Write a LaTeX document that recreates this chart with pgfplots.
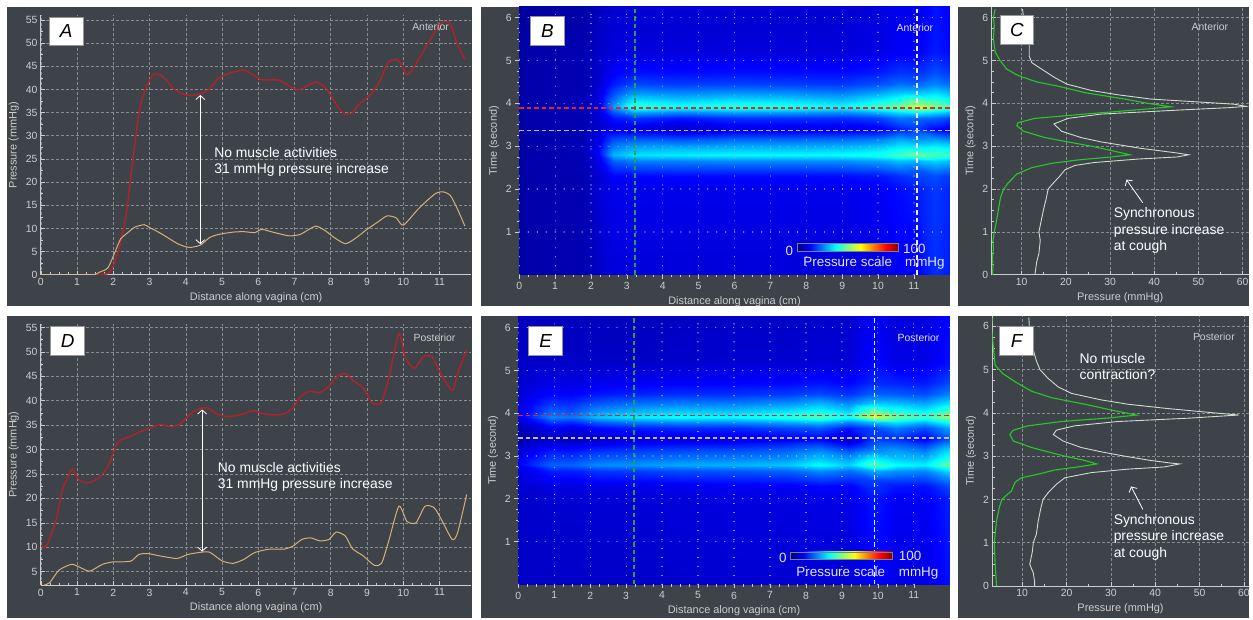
\documentclass[border=0pt]{standalone}
\usepackage{fontspec}
\setmainfont{Liberation Sans}
\usepackage{pgfplots}
\pgfplotsset{compat=1.18}
\usetikzlibrary{arrows.meta}
\definecolor{panelbg}{RGB}{61,67,73}
\definecolor{axcol}{RGB}{205,205,205}
\definecolor{gridcol}{RGB}{135,141,147}
\definecolor{redc}{RGB}{178,34,40}
\definecolor{tanc}{RGB}{214,176,122}
\definecolor{whitec}{RGB}{205,222,205}
\definecolor{greenc}{RGB}{40,200,40}
\definecolor{lblcol}{RGB}{228,228,245}
\definecolor{dotcol}{RGB}{175,180,205}
\definecolor{boxcol}{RGB}{150,150,150}
\definecolor{dgreen}{RGB}{30,165,70}
\definecolor{dwhite}{RGB}{235,235,255}
\definecolor{dred}{RGB}{235,35,35}
\definecolor{dlav}{RGB}{200,180,225}
\pgfdeclarehorizontalshading{jetbar}{100bp}{rgb(0bp)=(0,0,0.5); rgb(25bp)=(0,0,0.5); rgb(31.25bp)=(0,0,1); rgb(43.75bp)=(0,1,1); rgb(56.25bp)=(1,1,0); rgb(68.75bp)=(1,0,0); rgb(75bp)=(0.5,0,0); rgb(100bp)=(0.5,0,0)}
\pgfplotsset{
  common/.style={scale only axis, anchor=south west,
    tick style={draw=axcol, line width=0.6bp}, major tick length=4bp, minor tick length=2.5bp,
    ticklabel style={font=\fontsize{10.5}{12}\selectfont, text=axcol},
    /pgf/number format/assume math mode=true,
    label style={font=\fontsize{11}{12}\selectfont, text=axcol}},
  panel/.style={common,
    axis lines*=left, axis line style={draw=axcol, line width=0.8bp},
    grid=major, major grid style={draw=gridcol, line width=0.6bp, dash pattern=on 3bp off 2bp}},
  heat/.style={common, axis on top, axis line style={draw=none}, tick pos=left, tick align=outside,
    colormap/jet, point meta min=0, point meta max=100,
    xmin=0, xmax=12, xtick={0,...,11}, minor x tick num=3, ytick={1,...,6}, minor y tick num=3,
    grid=major, major grid style={draw=dotcol, line width=1.2bp, dash pattern=on 0.01bp off 9bp, line cap=round},
    xlabel={Distance along vagina (cm)}, ylabel={Time (second)}},
  dline/.style={line width=1.3bp, dash pattern=on 4.5bp off 3bp},
}
\tikzset{
  tbox/.style={draw=boxcol, fill=white, minimum width=34bp, minimum height=29bp, inner sep=0pt, line width=0.8bp, font=\fontsize{19}{20}\selectfont\itshape, text=black},
  ann/.style={font=\fontsize{14}{16}\selectfont, text=white, anchor=base west, inner sep=0pt},
}
\begin{document}
\begin{tikzpicture}
\begin{scope}[x=1bp,y=1bp]
\useasboundingbox (0,0) rectangle (1253,620);
\fill[white] (0,0) rectangle (1253,620);
\fill[panelbg] (7,313) rectangle (474,613);
\fill[panelbg] (483,313) rectangle (953,613);
\fill[panelbg] (961,313) rectangle (1253,613);
\fill[panelbg] (7,0) rectangle (474,303);
\fill[panelbg] (483,0) rectangle (953,303);
\fill[panelbg] (961,0) rectangle (1253,303);
\end{scope}

% ---------------- A ----------------
\begin{axis}[panel, at={(41bp,344.3bp)}, width=432bp, height=260.3bp,
  xmin=0, xmax=11.88, ymin=0, ymax=56,
  xtick={0,...,11}, minor x tick num=3, ytick={0,5,...,55}, minor y tick num=1,
  xlabel={Distance along vagina (cm)}, ylabel={Pressure (mmHg)}]
\addplot[redc, line width=1.4bp, smooth, tension=0.4] coordinates {
(1.4,0) (1.6,0.1) (1.9,0.5) (2.13,4.8) (2.36,13.4) (2.54,24.9) (2.72,35.6) (2.9,40.3) (3.09,43.2) (3.27,43.2) (3.46,42.1) (3.64,40.3) (3.91,39) (4.19,38.7) (4.46,39.2) (4.65,40.1) (4.92,42.5) (5.29,43.7) (5.61,44.2) (5.84,43.2) (6.11,42.1) (6.57,42) (6.85,40.8) (7.12,39.9) (7.4,41) (7.63,41.6) (7.86,40.3) (8.04,38.2) (8.22,36) (8.4,34.6) (8.59,34.9) (8.77,36.7) (9.0,38.2) (9.14,39.2) (9.37,42.1) (9.6,46) (9.83,46.4) (9.96,45.3) (10.1,43.2) (10.24,44.2) (10.5,47.5) (10.79,51.4) (11.06,54.4) (11.29,54.3) (11.48,50) (11.7,46.5)};
\addplot[tanc, line width=1bp, smooth, tension=0.4] coordinates {
(0,0) (1.4,0) (1.6,0.5) (1.85,1.5) (2.04,4.8) (2.2,7.7) (2.4,9.1) (2.6,10.3) (2.85,10.8) (3.0,10.2) (3.27,9.1) (3.5,8) (3.8,6.6) (4.1,5.9) (4.4,6.4) (4.65,8) (4.9,8.7) (5.3,9.2) (5.6,9.3) (5.9,9.1) (6.1,9.8) (6.4,9.2) (6.85,8.4) (7.15,8.7) (7.4,9.8) (7.6,10.5) (7.85,9.5) (8.1,8) (8.4,6.7) (8.65,7.7) (9.0,9.8) (9.3,11.4) (9.55,12.7) (9.8,12.3) (10.0,10.7) (10.4,14.1) (10.6,15.6) (10.9,17.6) (11.1,17.9) (11.3,17.1) (11.5,14.1) (11.7,10.5)};
\draw[white, line width=0.8bp, {Straight Barb[length=4bp,width=9bp]}-{Straight Barb[length=4bp,width=9bp]}] (axis cs:4.4,6.6) -- (axis cs:4.4,38.8);
\node[ann] at (axis cs:4.78,25.4) {No muscle activities};
\node[ann] at (axis cs:4.78,21.96) {31 mmHg pressure increase};
\end{axis}

% ---------------- D ----------------
\begin{axis}[panel, at={(41bp,32.7bp)}, width=432bp, height=262.6bp,
  xmin=0, xmax=11.88, ymin=2.2, ymax=55.8,
  xtick={0,...,11}, minor x tick num=3, ytick={5,10,...,55}, minor y tick num=1,
  xlabel={Distance along vagina (cm)}, ylabel={Pressure (mmHg)}]
\addplot[redc, line width=1.4bp, smooth, tension=0.4] coordinates {
(0,10.2) (0.15,10.2) (0.4,15) (0.6,21.8) (0.75,24.5) (0.88,26) (1.05,23.8) (1.3,23.2) (1.6,24.2) (1.85,26.6) (2.0,29.3) (2.15,31.7) (2.5,32.8) (2.75,33.7) (3.0,34.4) (3.3,35.1) (3.6,34.7) (3.85,35.3) (4.1,37.1) (4.35,38.3) (4.6,38.5) (4.9,37.1) (5.2,36.8) (5.5,37.1) (5.85,38) (6.1,37.4) (6.45,37.1) (6.7,37.3) (6.95,38.5) (7.15,40.7) (7.4,41.9) (7.7,41.7) (7.95,42.9) (8.15,44.8) (8.4,45.6) (8.65,43.9) (8.9,42.6) (9.15,39.5) (9.4,39.7) (9.6,44.6) (9.88,53.8) (10.05,49) (10.3,46.6) (10.55,49) (10.8,49) (11.0,46) (11.35,42.1) (11.5,45.6) (11.75,50.4)};
\addplot[tanc, line width=1bp, smooth, tension=0.4] coordinates {
(0.08,2.2) (0.25,2.8) (0.5,5.3) (0.85,6.5) (1.1,5.8) (1.35,5.1) (1.7,6.5) (2.0,7) (2.25,7) (2.5,7.2) (2.7,8.5) (2.95,8.7) (3.3,8.2) (3.75,7.7) (4.05,8.5) (4.35,8.9) (4.65,9) (5.0,7.2) (5.3,6.7) (5.6,7.5) (5.9,8.9) (6.3,9.6) (6.7,9.6) (6.95,10.2) (7.2,11.6) (7.45,11.9) (7.7,11.3) (7.95,11.6) (8.15,13.1) (8.4,12.3) (8.6,9.7) (8.9,8.2) (9.2,6.3) (9.4,6.7) (9.6,11.3) (9.88,18.4) (10.1,15.3) (10.35,15) (10.6,18.4) (10.85,18.1) (11.05,15.7) (11.35,11.6) (11.5,13) (11.75,20.8)};
\draw[white, line width=0.8bp, {Straight Barb[length=4bp,width=9bp]}-{Straight Barb[length=4bp,width=9bp]}] (axis cs:4.45,9.1) -- (axis cs:4.45,38.2);
\node[ann] at (axis cs:4.88,25.4) {No muscle activities};
\node[ann] at (axis cs:4.88,22.1) {31 mmHg pressure increase};
\end{axis}

% ---------------- B ----------------
\begin{axis}[heat, at={(521bp,344.3bp)}, width=432bp, height=268.7bp, ymin=0, ymax=6.25]
\addplot[surf, shader=interp, mesh/cols=14, point meta=explicit] coordinates {
(0,0)[4] (1.8,0)[5] (2.2,0)[7] (2.6,0)[9] (3.2,0)[9] (4.5,0)[9] (6,0)[9] (7.5,0)[9] (9,0)[9] (10,0)[10] (10.6,0)[12] (11.1,0)[12] (11.6,0)[17] (12,0)[15]
(0,2)[4] (1.8,2)[5] (2.2,2)[8.5] (2.6,2)[10.5] (3.2,2)[10.5] (4.5,2)[10.5] (6,2)[10.5] (7.5,2)[10.5] (9,2)[10.5] (10,2)[11.5] (10.6,2)[13.5] (11.1,2)[15] (11.6,2)[18] (12,2)[16]
(0,2.3)[4] (1.8,2.3)[5] (2.2,2.3)[8] (2.6,2.3)[12.5] (3.2,2.3)[13] (4.5,2.3)[13.2] (6,2.3)[13.3] (7.5,2.3)[13.3] (9,2.3)[13.5] (10,2.3)[14.5] (10.6,2.3)[17] (11.1,2.3)[18.6] (11.6,2.3)[20] (12,2.3)[18]
(0,2.45)[4] (1.8,2.45)[5.2] (2.2,2.45)[8.7] (2.6,2.45)[15.9] (3.2,2.45)[17.6] (4.5,2.45)[17.9] (6,2.45)[18.2] (7.5,2.45)[18.2] (9,2.45)[18.6] (10,2.45)[19.9] (10.6,2.45)[22.6] (11.1,2.45)[21] (11.6,2.45)[24.9] (12,2.45)[22.9]
(0,2.65)[4] (1.8,2.65)[5.3] (2.2,2.65)[10] (2.6,2.65)[21.6] (3.2,2.65)[24.6] (4.5,2.65)[25.2] (6,2.65)[25.8] (7.5,2.65)[25.8] (9,2.65)[26.4] (10,2.65)[28] (10.6,2.65)[31.2] (11.1,2.65)[30] (11.6,2.65)[33] (12,2.65)[31]
(0,2.8)[4] (1.8,2.8)[5.5] (2.2,2.8)[12] (2.6,2.8)[30] (3.2,2.8)[35] (4.5,2.8)[36] (6,2.8)[37] (7.5,2.8)[37] (9,2.8)[38] (10,2.8)[40] (10.6,2.8)[44] (11.1,2.8)[48] (11.6,2.8)[45] (12,2.8)[43]
(0,2.95)[4] (1.8,2.95)[5.4] (2.2,2.95)[10.9] (2.6,2.95)[25.4] (3.2,2.95)[29.3] (4.5,2.95)[30.1] (6,2.95)[30.8] (7.5,2.95)[30.8] (9,2.95)[31.6] (10,2.95)[33.4] (10.6,2.95)[37] (11.1,2.95)[37] (11.6,2.95)[38.4] (12,2.95)[36.4]
(0,3.15)[4] (1.8,3.15)[5.25] (2.2,3.15)[9.9] (2.6,3.15)[20] (3.2,3.15)[22.2] (4.5,3.15)[21.3] (6,3.15)[23.3] (7.5,3.15)[23.3] (9,3.15)[23.9] (10,3.15)[25.4] (10.6,3.15)[29.8] (11.1,3.15)[27] (11.6,3.15)[29] (12,3.15)[26.5]
(0,3.4)[4] (1.8,3.4)[5] (2.2,3.4)[7.7] (2.6,3.4)[10] (3.2,3.4)[9.3] (4.5,3.4)[6.5] (6,3.4)[9.5] (7.5,3.4)[9.5] (9,3.4)[9.8] (10,3.4)[10.7] (10.6,3.4)[15.6] (11.1,3.4)[18] (11.6,3.4)[13] (12,3.4)[10]
(0,3.65)[4] (1.8,3.65)[5.1] (2.2,3.65)[8] (2.6,3.65)[14.5] (3.2,3.65)[17.7] (4.5,3.65)[14.8] (6,3.65)[17.6] (7.5,3.65)[17.4] (9,3.65)[16.9] (10,3.65)[19] (10.6,3.65)[24] (11.1,3.65)[23] (11.6,3.65)[22.3] (12,3.65)[19]
(0,3.8)[4] (1.8,3.8)[5.3] (2.2,3.8)[8.5] (2.6,3.8)[20.8] (3.2,3.8)[29.5] (4.5,3.8)[26.3] (6,3.8)[29] (7.5,3.8)[28.4] (9,3.8)[26.7] (10,3.8)[30.7] (10.6,3.8)[35.6] (11.1,3.8)[38] (11.6,3.8)[35.2] (12,3.8)[31.6]
(0,3.92)[4] (1.8,3.92)[5.5] (2.2,3.92)[9] (2.6,3.92)[28] (3.2,3.92)[43] (4.5,3.92)[39.5] (6,3.92)[42] (7.5,3.92)[41] (9,3.92)[38] (10,3.92)[44] (10.6,3.92)[49] (11.1,3.92)[58] (11.6,3.92)[50] (12,3.92)[46]
(0,4.05)[4] (1.8,4.05)[5.4] (2.2,4.05)[8.6] (2.6,4.05)[24.2] (3.2,4.05)[36.2] (4.5,4.05)[33.4] (6,4.05)[35.4] (7.5,4.05)[34.6] (9,4.05)[32.2] (10,4.05)[37.2] (10.6,4.05)[41.6] (11.1,4.05)[48] (11.6,4.05)[43] (12,4.05)[39.4]
(0,4.25)[4] (1.8,4.25)[5.3] (2.2,4.25)[8.1] (2.6,4.25)[19.4] (3.2,4.25)[27.6] (4.5,4.25)[25.8] (6,4.25)[27.2] (7.5,4.25)[26.6] (9,4.25)[25] (10,4.25)[28.7] (10.6,4.25)[32.4] (11.1,4.25)[32] (11.6,4.25)[34.3] (12,4.25)[31.2]
(0,4.45)[4] (1.8,4.45)[5.15] (2.2,4.45)[7.6] (2.6,4.45)[14.7] (3.2,4.45)[19.2] (4.5,4.45)[18.2] (6,4.45)[18.9] (7.5,4.45)[18.6] (9,4.45)[17.7] (10,4.45)[20.2] (10.6,4.45)[23.1] (11.1,4.45)[22] (11.6,4.45)[25.5] (12,4.45)[22.9]
(0,4.7)[4] (1.8,4.7)[5.1] (2.2,4.7)[7.3] (2.6,4.7)[11.8] (3.2,4.7)[14.1] (4.5,4.7)[13.5] (6,4.7)[14] (7.5,4.7)[13.8] (9,4.7)[13.4] (10,4.7)[15.1] (10.6,4.7)[17.6] (11.1,4.7)[17] (11.6,4.7)[20.3] (12,4.7)[17.9]
(0,5.2)[4] (1.8,5.2)[5] (2.2,5.2)[7] (2.6,5.2)[9] (3.2,5.2)[9] (4.5,5.2)[9] (6,5.2)[9] (7.5,5.2)[9] (9,5.2)[9] (10,5.2)[10] (10.6,5.2)[12] (11.1,5.2)[11.7] (11.6,5.2)[15] (12,5.2)[13]
(0,6.3)[3] (1.8,6.3)[4] (2.2,6.3)[6] (2.6,6.3)[8] (3.2,6.3)[8] (4.5,6.3)[8] (6,6.3)[8] (7.5,6.3)[8] (9,6.3)[8] (10,6.3)[9] (10.6,6.3)[11] (11.1,6.3)[10.2] (11.6,6.3)[14] (12,6.3)[12]
};
\addplot[dline, draw=dgreen] coordinates {(3.23,0) (3.23,6.3)};
\addplot[dline, draw=dwhite] coordinates {(11.09,0) (11.09,6.3)};
\addplot[dline, draw=dred] coordinates {(0,3.89) (12,3.89)};
\addplot[dline, draw=dlav] coordinates {(0,3.36) (12,3.36)};
\end{axis}

% ---------------- E ----------------
\begin{axis}[heat, at={(520bp,33.7bp)}, width=433bp, height=269bp, ymin=0, ymax=6.27]
\addplot[surf, shader=interp, mesh/cols=14, point meta=explicit] coordinates {
(0,0)[7] (0.9,0)[7] (1.5,0)[7] (2.2,0)[7] (3.2,0)[7] (4.5,0)[7.5] (6,0)[8] (7.5,0)[8] (8.4,0)[8.5] (9.2,0)[8.5] (9.9,0)[12.8] (10.5,0)[10] (11.3,0)[10] (12,0)[14]
(0,2)[7.5] (0.9,2)[8] (1.5,2)[8] (2.2,2)[8.5] (3.2,2)[8.5] (4.5,2)[9] (6,2)[9.5] (7.5,2)[9.5] (8.4,2)[10] (9.2,2)[10] (9.9,2)[14.7] (10.5,2)[11.5] (11.3,2)[11.5] (12,2)[15.5]
(0,2.3)[7.8] (0.9,2.3)[9.5] (1.5,2.3)[9.5] (2.2,2.3)[10] (3.2,2.3)[10.2] (4.5,2.3)[10.7] (6,2.3)[11.3] (7.5,2.3)[11.6] (8.4,2.3)[13] (9.2,2.3)[12] (9.9,2.3)[17.5] (10.5,2.3)[14.5] (11.3,2.3)[14] (12,2.3)[20]
(0,2.45)[8.7] (0.9,2.45)[12] (1.5,2.45)[12] (2.2,2.45)[13.3] (3.2,2.45)[13.6] (4.5,2.45)[14.6] (6,2.45)[15.3] (7.5,2.45)[15.9] (8.4,2.45)[18.2] (9.2,2.45)[16.6] (9.9,2.45)[19] (10.5,2.45)[19.2] (11.3,2.45)[18.6] (12,2.45)[25.2]
(0,2.65)[9.2] (0.9,2.65)[15.2] (1.5,2.65)[15.2] (2.2,2.65)[17.6] (3.2,2.65)[18.2] (4.5,2.65)[19.8] (6,2.65)[20.8] (7.5,2.65)[22] (8.4,2.65)[26] (9.2,2.65)[23] (9.9,2.65)[29] (10.5,2.65)[26.8] (11.3,2.65)[25.6] (12,2.65)[34.4]
(0,2.8)[12] (0.9,2.8)[22] (1.5,2.8)[22] (2.2,2.8)[26] (3.2,2.8)[27] (4.5,2.8)[29] (6,2.8)[30] (7.5,2.8)[32] (8.4,2.8)[38] (9.2,2.8)[33] (9.9,2.8)[45.5] (10.5,2.8)[38] (11.3,2.8)[36] (12,2.8)[48]
(0,2.95)[10.5] (0.9,2.95)[18.3] (1.5,2.95)[18.3] (2.2,2.95)[21.4] (3.2,2.95)[22.2] (4.5,2.95)[23.9] (6,2.95)[24.9] (7.5,2.95)[26.5] (8.4,2.95)[31.4] (9.2,2.95)[27.5] (9.9,2.95)[36] (10.5,2.95)[31.8] (11.3,2.95)[30.3] (12,2.95)[40.5]
(0,3.15)[8] (0.9,3.15)[14.3] (1.5,3.15)[13.8] (2.2,3.15)[16.5] (3.2,3.15)[17.7] (4.5,3.15)[19] (6,3.15)[19.6] (7.5,3.15)[21.8] (8.4,3.15)[25.2] (9.2,3.15)[19.7] (9.9,3.15)[25.5] (10.5,3.15)[27.5] (11.3,3.15)[24] (12,3.15)[34.5]
(0,3.4)[4] (0.9,3.4)[6.5] (1.5,3.4)[5.5] (2.2,3.4)[7] (3.2,3.4)[8.3] (4.5,3.4)[9] (6,3.4)[9.2] (7.5,3.4)[11.5] (8.4,3.4)[12.3] (9.2,3.4)[6.3] (9.9,3.4)[18] (10.5,3.4)[17] (11.3,3.4)[12] (12,3.4)[21]
(0,3.65)[5.5] (0.9,3.65)[11.4] (1.5,3.65)[10.1] (2.2,3.65)[13.2] (3.2,3.65)[15.2] (4.5,3.65)[16.4] (6,3.65)[16.4] (7.5,3.65)[19.1] (8.4,3.65)[20.6] (9.2,3.65)[14.6] (9.9,3.65)[19.5] (10.5,3.65)[24.8] (11.3,3.65)[19.8] (12,3.65)[28.8]
(0,3.8)[7] (0.9,3.8)[18.2] (1.5,3.8)[16.6] (2.2,3.8)[21.8] (3.2,3.8)[24.9] (4.5,3.8)[26.6] (6,3.8)[26.4] (7.5,3.8)[29.6] (8.4,3.8)[32.3] (9.2,3.8)[26.2] (9.9,3.8)[31.6] (10.5,3.8)[35.6] (11.3,3.8)[30.6] (12,3.8)[39.6]
(0,3.92)[10] (0.9,3.92)[26] (1.5,3.92)[24] (2.2,3.92)[31.7] (3.2,3.92)[36] (4.5,3.92)[38.4] (6,3.92)[37.8] (7.5,3.92)[41.7] (8.4,3.92)[45.6] (9.2,3.92)[39.5] (9.9,3.92)[58] (10.5,3.92)[48] (11.3,3.92)[43] (12,3.92)[52]
(0,4.05)[9] (0.9,4.05)[21.8] (1.5,4.05)[20.2] (2.2,4.05)[26.4] (3.2,4.05)[29.8] (4.5,4.05)[31.9] (6,4.05)[31.6] (7.5,4.05)[34.8] (8.4,4.05)[38.1] (9.2,4.05)[33.2] (9.9,4.05)[48] (10.5,4.05)[40.4] (11.3,4.05)[36.4] (12,4.05)[44.4]
(0,4.25)[8.6] (0.9,4.25)[17.5] (1.5,4.25)[16.4] (2.2,4.25)[20.6] (3.2,4.25)[22.9] (4.5,4.25)[24.5] (6,4.25)[24.4] (7.5,4.25)[26.5] (8.4,4.25)[29.9] (9.2,4.25)[25.5] (9.9,4.25)[32] (10.5,4.25)[30.9] (11.3,4.25)[28.2] (12,4.25)[34.9]
(0,4.45)[7.9] (0.9,4.45)[12.7] (1.5,4.45)[12.1] (2.2,4.45)[14.4] (3.2,4.45)[15.7] (4.5,4.45)[16.8] (6,4.45)[16.9] (7.5,4.45)[18.1] (8.4,4.45)[19.6] (9.2,4.45)[17.3] (9.9,4.45)[22] (10.5,4.45)[21.4] (11.3,4.45)[19.9] (12,4.45)[25.4]
(0,4.7)[7.5] (0.9,4.7)[9.9] (1.5,4.7)[9.6] (2.2,4.7)[10.7] (3.2,4.7)[11.4] (4.5,4.7)[12] (6,4.7)[12.5] (7.5,4.7)[13.1] (8.4,4.7)[14.1] (9.2,4.7)[12.7] (9.9,4.7)[16.5] (10.5,4.7)[15.7] (11.3,4.7)[14.9] (12,4.7)[19.7]
(0,5.2)[7] (0.9,5.2)[7] (1.5,5.2)[7] (2.2,5.2)[7] (3.2,5.2)[7] (4.5,5.2)[7.5] (6,5.2)[8] (7.5,5.2)[8] (8.4,5.2)[8.5] (9.2,5.2)[8.5] (9.9,5.2)[13.2] (10.5,5.2)[10] (11.3,5.2)[10] (12,5.2)[14]
(0,6.3)[6] (0.9,6.3)[6] (1.5,6.3)[6] (2.2,6.3)[6] (3.2,6.3)[6] (4.5,6.3)[6.5] (6,6.3)[7] (7.5,6.3)[7] (8.4,6.3)[7.5] (9.2,6.3)[7.5] (9.9,6.3)[11.5] (10.5,6.3)[9] (11.3,6.3)[9] (12,6.3)[13]
};
\addplot[dline, draw=dgreen] coordinates {(3.22,0) (3.22,6.3)};
\addplot[dline, draw=dwhite] coordinates {(9.91,0) (9.91,6.3)};
\addplot[dline, draw=dred] coordinates {(0,3.94) (12,3.94)};
\addplot[dline, draw=dlav] coordinates {(0,3.42) (12,3.42)};
\end{axis}

% ---------------- C ----------------
\begin{axis}[panel, at={(995bp,344.3bp)}, width=258bp, height=268.7bp,
  xmin=3.2, xmax=61.4, ymin=0, ymax=6.25,
  xtick={10,20,...,60}, minor x tick num=1, ytick={0,...,6}, minor y tick num=3,
  xlabel={Pressure (mmHg)}, ylabel={Time (second)}]
\addplot[greenc, line width=1.1bp] coordinates {
(4.0,6.2) (3.6,6.0) (3.8,5.8) (3.6,5.5) (4.0,5.2) (5.1,5.0) (6.6,4.8) (9.2,4.65) (13.4,4.5) (18.3,4.4) (24.3,4.25) (33.3,4.1) (38.6,4.0) (43.8,3.92) (36.3,3.85) (24.3,3.75) (13,3.65) (9.2,3.55) (8.9,3.48) (10.4,3.35) (15.3,3.2) (20.5,3.1) (25.8,3.0) (30.3,2.9) (34.5,2.8) (30.3,2.75) (22.8,2.68) (16.8,2.6) (12.3,2.5) (8.9,2.35) (7,2.15) (5.9,2.0) (5.2,1.8) (4.7,1.5) (4.2,1.2) (3.8,1.0) (3.5,0.8) (3.6,0.6) (3.4,0.4) (3.5,0.2) (3.4,0)};
\addplot[whitec, line width=0.9bp] coordinates {
(10.2,6.2) (10.4,6.0) (11.1,5.7) (11.7,5.4) (11.7,5.1) (12.3,4.95) (14.5,4.8) (17.5,4.6) (20.2,4.45) (25.8,4.3) (31.8,4.2) (39.3,4.1) (52,4.02) (58.1,3.98) (60.8,3.93) (57,3.9) (46.8,3.85) (28,3.75) (20.5,3.65) (17.3,3.52) (19,3.35) (23.5,3.2) (28,3.1) (37,2.95) (44.6,2.85) (47.8,2.8) (45.3,2.75) (36.3,2.7) (26.5,2.62) (22,2.55) (19.8,2.45) (18.6,2.3) (16.8,2.1) (16,2.0) (15.6,1.8) (14.9,1.5) (14.3,1.2) (13.9,1.0) (14.2,0.8) (13.9,0.5) (13.4,0.3) (13,0)};
\draw[white, line width=0.8bp, -{Straight Barb[length=4bp,width=9bp]}] (axis cs:37.4,1.68) -- (axis cs:33.7,2.22);
\node[ann] at (axis cs:30.8,1.33) {Synchronous};
\node[ann] at (axis cs:30.8,0.94) {pressure increase};
\node[ann] at (axis cs:30.8,0.56) {at cough};
\end{axis}

% ---------------- F ----------------
\begin{axis}[panel, at={(995.7bp,32bp)}, width=257.3bp, height=271bp,
  xmin=3.26, xmax=61.1, ymin=0, ymax=6.24,
  xtick={10,20,...,60}, minor x tick num=1, ytick={0,...,6}, minor y tick num=3,
  xlabel={Pressure (mmHg)}, ylabel={Time (second)}]
\addplot[greenc, line width=1.1bp] coordinates {
(3.3,6.2) (3.1,6.0) (3.5,5.5) (3.9,5.1) (5.7,4.9) (8.7,4.7) (12.1,4.5) (16.6,4.35) (24.1,4.2) (30.8,4.05) (35.8,3.95) (29.3,3.88) (18.8,3.8) (11.3,3.7) (8,3.6) (7.2,3.5) (8,3.35) (12.1,3.2) (15.8,3.1) (19.6,3.0) (24.1,2.9) (26.8,2.82) (22.5,2.75) (17.3,2.68) (14.3,2.6) (9.8,2.5) (8.4,2.4) (7.6,2.2) (5.4,2.0) (4.8,1.8) (4.2,1.5) (3.9,1.2) (3.7,1.0) (3.9,0.5) (4.2,0)};
\addplot[whitec, line width=0.9bp] coordinates {
(11.5,6.2) (11.6,6.0) (11.9,5.7) (12.5,5.45) (13.2,5.2) (14,5.0) (15.8,4.8) (18.1,4.6) (21.1,4.45) (27.8,4.3) (33.8,4.2) (42.8,4.1) (53.3,4.0) (58.8,3.95) (48,3.88) (31.6,3.8) (21.8,3.7) (17.7,3.6) (17,3.5) (19.2,3.35) (23.3,3.2) (27.8,3.1) (33.1,3.0) (39,2.9) (43.5,2.84) (45.5,2.82) (42,2.75) (33.8,2.7) (25.6,2.62) (19.6,2.5) (17.7,2.35) (15.8,2.15) (14.7,2.0) (14.2,1.8) (13.6,1.5) (13.2,1.2) (12.5,1.0) (12.3,0.8) (11.7,0.5) (12.5,0.3) (12.8,0.1) (12.8,0)};
\draw[white, line width=0.8bp, -{Straight Barb[length=4bp,width=9bp]}] (axis cs:37.2,1.77) -- (axis cs:34.55,2.30);
\node[ann] at (axis cs:30.6,1.42) {Synchronous};
\node[ann] at (axis cs:30.6,1.04) {pressure increase};
\node[ann] at (axis cs:30.6,0.65) {at cough};
\node[ann] at (axis cs:22.9,5.14) {No muscle};
\node[ann] at (axis cs:22.9,4.77) {contraction?};
\end{axis}

% ---------------- decorations ----------------
\begin{scope}[x=1bp,y=1bp]
\node[tbox] at (66.5,588.5) {A};
\node[tbox] at (549.3,588.8) {B};
\node[tbox] at (1020.3,590) {C};
\node[tbox] at (67.8,278.3) {D};
\node[tbox] at (547.5,278) {E};
\node[tbox] at (1020,277.8) {F};
\begin{scope}[every node/.style={font=\fontsize{10.5}{12}\selectfont, text=axcol, inner sep=0pt}]
\node at (432,593) {Anterior};
\node[text=lblcol] at (918,592) {Anterior};
\node at (1214,593) {Anterior};
\node at (436,281.3) {Posterior};
\node[text=lblcol] at (921.7,281) {Posterior};
\node at (1218,282) {Posterior};
\end{scope}
\shadedraw[shading=jetbar, draw=gray, line width=0.5bp] (800,368) rectangle (901.7,375.7);
\shadedraw[shading=jetbar, draw=gray, line width=0.5bp] (793.3,58.7) rectangle (895.7,66.3);
\begin{scope}[every node/.style={font=\fontsize{13.5}{15}\selectfont, text=lblcol, inner sep=0pt}]
\node at (792,368.5) {0};
\node[anchor=west] at (906,370.5) {100};
\node[anchor=base west] at (806,352.7) {Pressure scale};
\node[anchor=base west] at (908,352.7) {mmHg};
\node at (785.5,60.3) {0};
\node[anchor=west] at (901.7,62) {100};
\node[anchor=base west] at (799,41.3) {Pressure scale};
\node[anchor=base west] at (901.7,41.3) {mmHg};
\end{scope}
\end{scope}
\end{tikzpicture}
\end{document}
